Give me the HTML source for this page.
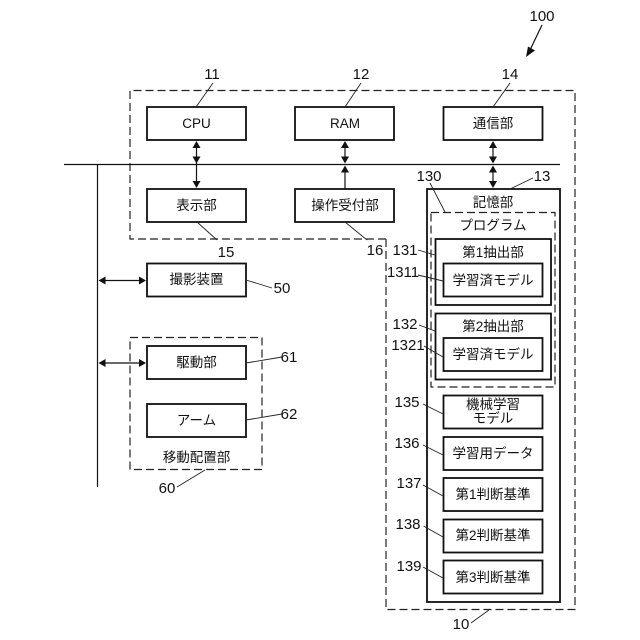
<!DOCTYPE html>
<html><head><meta charset="utf-8"><style>
html,body{margin:0;padding:0;background:#fff;width:640px;height:640px;overflow:hidden}
svg{display:block}
text{font-family:"Liberation Sans","Noto Sans CJK JP",sans-serif;fill:#111}
.l{font-size:13.500px;text-anchor:middle}
.n{font-size:15px;text-anchor:middle}
rect.b{fill:#fff;stroke:#111;stroke-width:1.8}
.d{fill:none;stroke:#222;stroke-width:1.2;stroke-dasharray:8 4}
.t{stroke:#222;stroke-width:.9;fill:none}
.a{stroke:#111;stroke-width:1.2;fill:none}
polygon{fill:#111}
</style></head><body>
<svg width="640" height="640" viewBox="0 0 640 640" xmlns="http://www.w3.org/2000/svg">
<path class="d" d="M386 239H130V90.500H575V609.500H386V239"/>
<rect class="d" x="130" y="337.500" width="132" height="132"/>
<path d="M64 164.500H560M97.500 164.500V487" stroke="#111" stroke-width="1.2" fill="none"/>

<rect class="b" x="147" y="107" width="99" height="33"/>
<rect class="b" x="295" y="107" width="99" height="33"/>
<rect class="b" x="443.500" y="107" width="99" height="33"/>
<rect class="b" x="147" y="189" width="99" height="33"/>
<rect class="b" x="295" y="189" width="99" height="33"/>
<rect class="b" x="427" y="189" width="133" height="413"/>
<rect class="d" x="431" y="212.500" width="124" height="174.500" style="fill:none"/>
<rect class="b" x="435.500" y="239" width="115.500" height="66"/>
<rect class="b" x="443.500" y="263.500" width="99" height="33"/>
<rect class="b" x="435.500" y="313.500" width="115.500" height="66"/>
<rect class="b" x="443.500" y="338" width="99" height="33"/>
<rect class="b" x="443.500" y="395.500" width="99" height="33"/>
<rect class="b" x="443.500" y="437" width="99" height="33"/>
<rect class="b" x="443.500" y="478" width="99" height="33"/>
<rect class="b" x="443.500" y="519.500" width="99" height="33"/>
<rect class="b" x="443.500" y="560.500" width="99" height="33"/>
<rect class="b" x="147" y="263.500" width="99" height="33"/>
<rect class="b" x="147" y="346" width="99" height="33"/>
<rect class="b" x="147" y="404" width="99" height="33"/>

<!-- arrows -->
<path class="a" d="M196.500 146V183M345 146V159M345 170V189M493 146V159M493 170V183M103 280.500H141M103 363H141"/>
<polygon points="196.500,141 192.500,148 200.500,148"/><polygon points="196.500,163.500 192.500,156.500 200.500,156.500"/>
<polygon points="196.500,188 192.500,181 200.500,181"/>
<polygon points="345,141 341,148 349,148"/><polygon points="345,163.500 341,156.500 349,156.500"/>
<polygon points="345,165.500 341,172.500 349,172.500"/>
<polygon points="493,141 489,148 497,148"/><polygon points="493,163.500 489,156.500 497,156.500"/>
<polygon points="493,165.500 489,172.500 497,172.500"/><polygon points="493,188 489,181 497,181"/>
<polygon points="98.500,280.500 105.500,276.500 105.500,284.500"/><polygon points="146,280.500 139,276.500 139,284.500"/>
<polygon points="98.500,363 105.500,359 105.500,367"/><polygon points="146,363 139,359 139,367"/>
<path class="a" d="M542 25L530 50"/><polygon points="526,57 528,46.500 535,50.500"/>

<!-- leaders -->
<path class="t" d="M196 107L213 83M345 107L361 83M493 107L510 83M197 222L217 240M345 222L367 240M510 189L533 178M430 183L445 212M418 250L435 255M418 275L443 281M419 325L435 331M424 346L443 357M423 404L443 414M423 445L443 455M423 485L443 496M423.500 526L443 537M423 567L443 578M246 280L272 288M246 363L282 357M246 420L282 414M205 470L177 487M489 610L471 623"/>

<!-- labels -->
<text class="n" x="212" y="79">11</text>
<text class="n" x="361" y="79">12</text>
<text class="n" x="510" y="79">14</text>
<text class="n" x="542" y="21">100</text>
<text class="n" x="226" y="257">15</text>
<text class="n" x="375" y="255">16</text>
<text class="n" x="429" y="181">130</text>
<text class="n" x="542" y="181">13</text>
<text class="n" x="405" y="255">131</text>
<text class="n" x="403" y="277">1311</text>
<text class="n" x="405" y="329">132</text>
<text class="n" x="408" y="350">1321</text>
<text class="n" x="407" y="407">135</text>
<text class="n" x="407" y="448">136</text>
<text class="n" x="409" y="488">137</text>
<text class="n" x="408" y="529">138</text>
<text class="n" x="409" y="571">139</text>
<text class="n" x="282" y="293">50</text>
<text class="n" x="289" y="362">61</text>
<text class="n" x="289" y="419">62</text>
<text class="n" x="167" y="493">60</text>
<text class="n" x="461" y="629">10</text>

<text class="l" x="196.500" y="128">CPU</text>
<text class="l" x="345" y="128">RAM</text>
<text class="l" x="493" y="128">通信部</text>
<text class="l" x="196.500" y="210">表示部</text>
<text class="l" x="345" y="210">操作受付部</text>
<text class="l" x="493" y="207">記憶部</text>
<text class="l" x="493" y="230">プログラム</text>
<text class="l" x="493" y="257">第1抽出部</text>
<text class="l" x="493" y="285">学習済モデル</text>
<text class="l" x="493" y="331">第2抽出部</text>
<text class="l" x="493" y="359">学習済モデル</text>
<text class="l" x="493" y="409">機械学習</text>
<text class="l" x="493" y="423">モデル</text>
<text class="l" x="493" y="458">学習用データ</text>
<text class="l" x="493" y="499">第1判断基準</text>
<text class="l" x="493" y="540">第2判断基準</text>
<text class="l" x="493" y="582">第3判断基準</text>
<text class="l" x="196.500" y="284">撮影装置</text>
<text class="l" x="196.500" y="367">駆動部</text>
<text class="l" x="196.500" y="425">アーム</text>
<text class="l" x="196.500" y="462">移動配置部</text>
</svg>
</body></html>
